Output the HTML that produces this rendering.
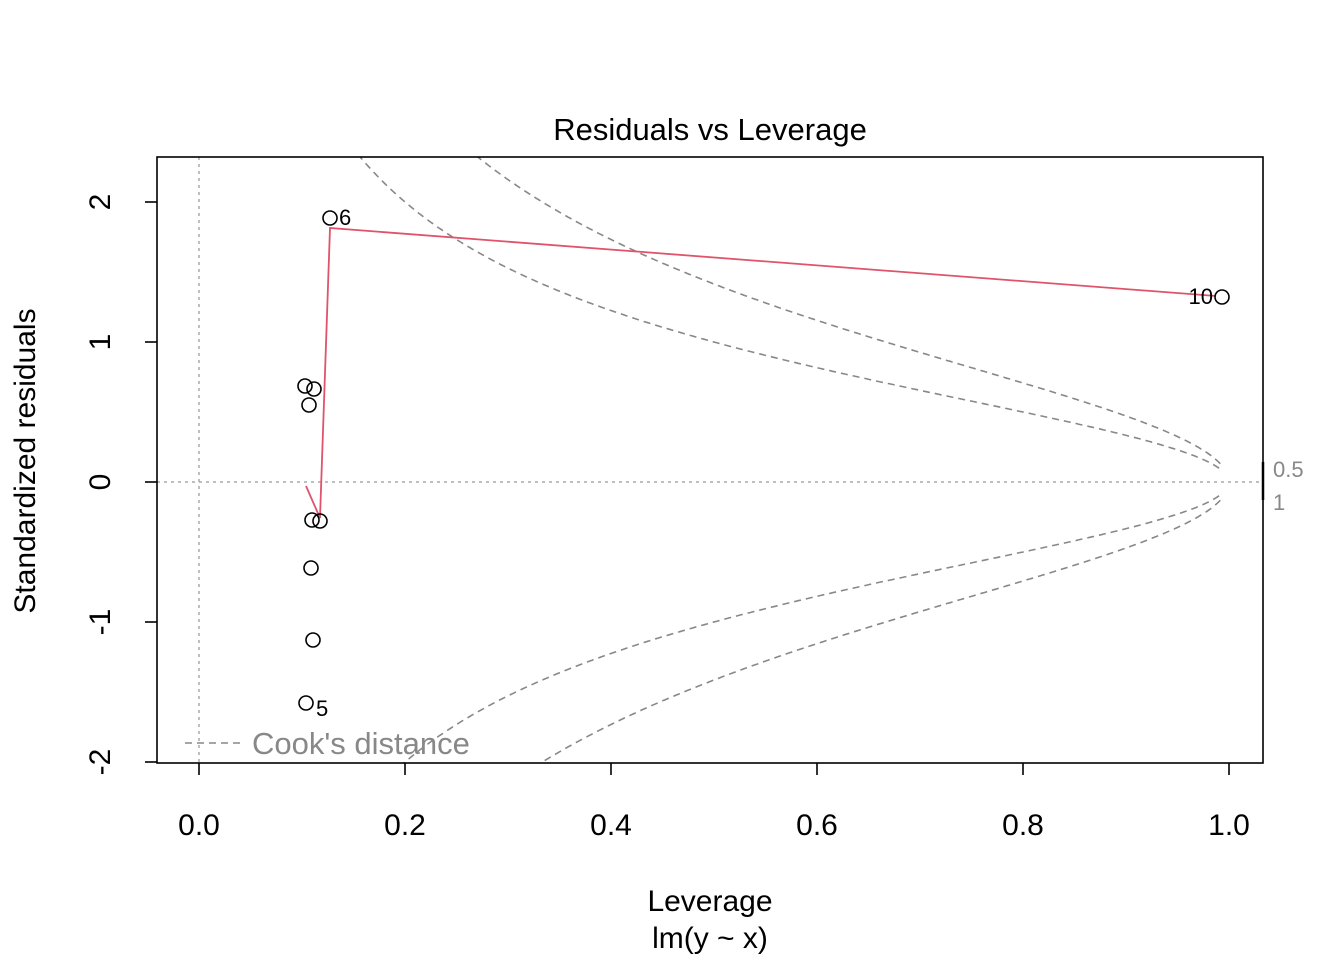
<!DOCTYPE html>
<html><head><meta charset="utf-8"><style>
html,body{margin:0;padding:0;background:#fff;width:1344px;height:960px;overflow:hidden}
svg{display:block;font-family:"Liberation Sans",Arial,sans-serif}
</style></head><body>
<svg id="s" width="1344" height="960" viewBox="0 0 1344 960" xmlns="http://www.w3.org/2000/svg">
<defs><clipPath id="c"><rect x="157" y="157" width="1106" height="606"/></clipPath></defs>
<rect width="1344" height="960" fill="#fff"/>
<text x="710" y="140" font-size="31" text-anchor="middle">Residuals vs Leverage</text>
<line x1="199" y1="157" x2="199" y2="763" stroke="#aaa" stroke-width="1.5" stroke-dasharray="3,4"/>
<line x1="157" y1="482" x2="1263" y2="482" stroke="#aaa" stroke-width="1.5" stroke-dasharray="3,4"/>
<g id="cook" clip-path="url(#c)" fill="none" stroke="#888" stroke-width="1.6" stroke-dasharray="7,5"></g>
<polyline points="306,486 320,518 330,228 1216,296" fill="none" stroke="#DF536B" stroke-width="1.8"/>
<g fill="none" stroke="#000" stroke-width="1.6">
<circle cx="330" cy="218" r="7"/><circle cx="305" cy="386" r="7"/><circle cx="314" cy="389" r="7"/>
<circle cx="309" cy="405" r="7"/><circle cx="312" cy="520" r="7"/><circle cx="320" cy="521" r="7"/>
<circle cx="311" cy="568" r="7"/><circle cx="313" cy="640" r="7"/><circle cx="306" cy="703" r="7"/>
<circle cx="1222" cy="297" r="7"/>
</g>
<g font-size="22"><text x="339" y="225">6</text><text x="1213" y="304" text-anchor="end">10</text><text x="316" y="716">5</text></g>
<rect x="157" y="157" width="1106" height="606" fill="none" stroke="#000" stroke-width="1.6"/>
<g stroke="#000" stroke-width="1.6">
<line x1="199" y1="763" x2="199" y2="775"/><line x1="405" y1="763" x2="405" y2="775"/><line x1="611" y1="763" x2="611" y2="775"/>
<line x1="817" y1="763" x2="817" y2="775"/><line x1="1023" y1="763" x2="1023" y2="775"/><line x1="1229" y1="763" x2="1229" y2="775"/>
<line x1="157" y1="202" x2="145" y2="202"/><line x1="157" y1="342" x2="145" y2="342"/><line x1="157" y1="482" x2="145" y2="482"/>
<line x1="157" y1="622" x2="145" y2="622"/><line x1="157" y1="762" x2="145" y2="762"/>
</g>
<g font-size="30" text-anchor="middle">
<text x="199" y="835">0.0</text><text x="405" y="835">0.2</text><text x="611" y="835">0.4</text>
<text x="817" y="835">0.6</text><text x="1023" y="835">0.8</text><text x="1229" y="835">1.0</text>
<text transform="translate(110,202) rotate(-90)">2</text><text transform="translate(110,342) rotate(-90)">1</text>
<text transform="translate(110,482) rotate(-90)">0</text><text transform="translate(110,622) rotate(-90)">-1</text>
<text transform="translate(110,762) rotate(-90)">-2</text>
<text x="710" y="911">Leverage</text><text x="710" y="948">lm(y ~ x)</text>
<text transform="translate(35,461) rotate(-90)">Standardized residuals</text>
</g>
<g fill="#888" font-size="22"><text x="1273" y="477">0.5</text><text x="1273" y="510">1</text></g>
<line x1="1263" y1="462" x2="1263" y2="500" stroke="#000" stroke-width="2.5"/>
<line x1="185" y1="743" x2="240" y2="743" stroke="#888" stroke-width="1.6" stroke-dasharray="7,5"/>
<text x="252" y="754" fill="#888" font-size="31">Cook's distance</text>
</svg>
<script>
(function(){
var g=document.getElementById('cook'),ns='http://www.w3.org/2000/svg';
[0.5,1].forEach(function(c){[1,-1].forEach(function(sg){
var d='';for(var i=0;i<=400;i++){var h=0.1+i*(0.992-0.1)/400;var r=sg*Math.sqrt(c*2*(1-h)/h);
var x=199+h*1030,y=482-r*140;d+=(i?'L':'M')+x.toFixed(1)+','+y.toFixed(1);}
var p=document.createElementNS(ns,'path');p.setAttribute('d',d);g.appendChild(p);});});
})();
</script>
</body></html>
